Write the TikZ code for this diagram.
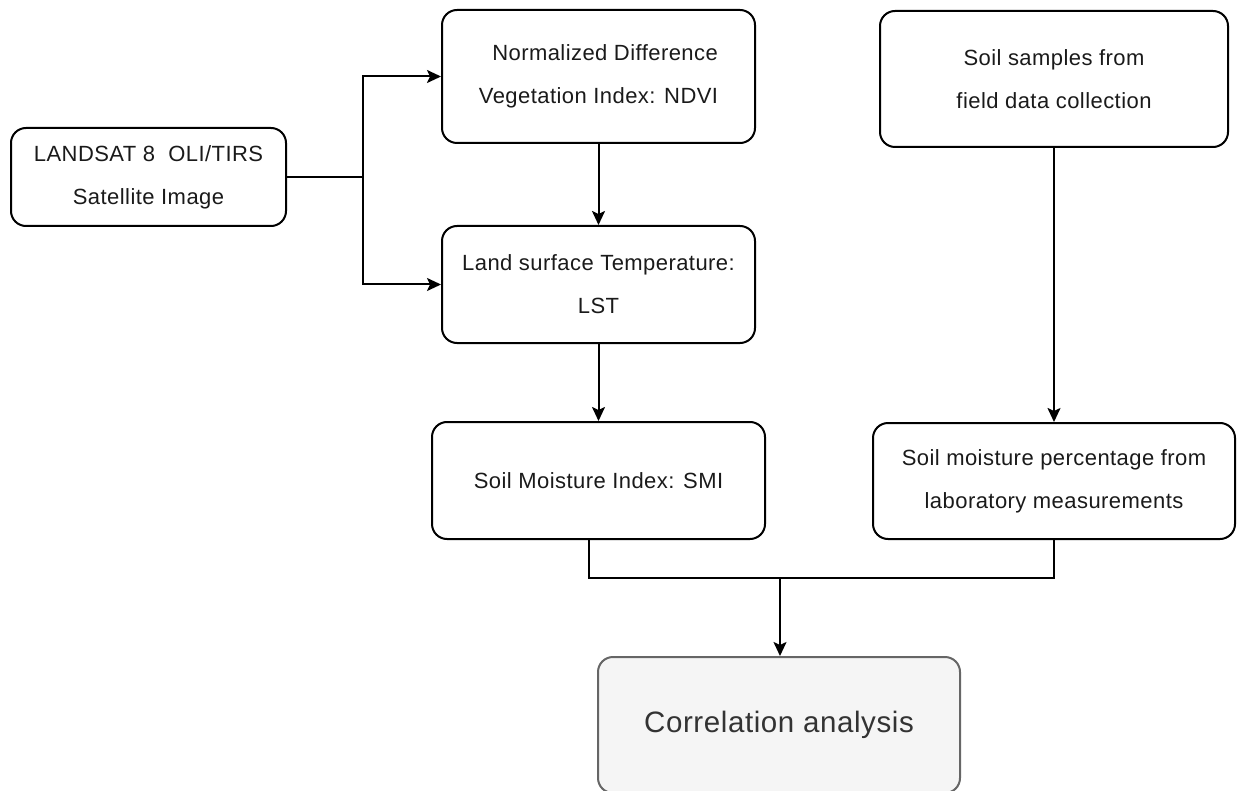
\documentclass[tikz,border=0pt]{standalone}
\usepackage{fontspec}
\setmainfont[LetterSpace=2]{Liberation Sans}
\usetikzlibrary{arrows.meta}
\definecolor{txt}{HTML}{1A1A1A}
\definecolor{corrfill}{HTML}{F5F5F5}
\definecolor{corrdraw}{HTML}{666666}
\definecolor{corrtxt}{HTML}{333333}
\begin{document}
\begin{tikzpicture}[x=1pt,y=-1pt,
  box/.style={draw=black, line width=2pt, rounded corners=15pt, align=center, inner sep=0pt,
    text=txt, font=\fontsize{22}{43}\selectfont},
  arr/.style={-{Stealth[length=14pt,width=13pt,inset=3pt]}, line width=2pt},
  ln/.style={line width=2pt}]
\useasboundingbox (0,0) rectangle (1238,791);
\node[box, minimum width=275pt, minimum height=98pt] (landsat) at (148.5,177) {LANDSAT 8\ \ OLI/TIRS\\Satellite Image};
\node[box, minimum width=313pt, minimum height=133pt] (ndvi) at (598.5,76.5) {\ \ Normalized Difference\\Vegetation Index: NDVI};
\node[box, minimum width=313pt, minimum height=117pt] (lst) at (598.5,284.5) {Land surface Temperature:\\LST};
\node[box, minimum width=333pt, minimum height=117pt] (smi) at (598.5,480.5) {Soil Moisture Index: SMI};
\node[box, minimum width=348pt, minimum height=136pt] (soil) at (1054,79) {Soil samples from\\field data collection};
\node[box, minimum width=362pt, minimum height=116pt] (lab) at (1054,481) {Soil moisture percentage from\\laboratory measurements};
\node[box, draw=corrdraw, fill=corrfill, text=corrtxt, minimum width=362pt, minimum height=136pt,
  font=\fontsize{29.5}{36}\selectfont] (corr) at (779,725) {Correlation analysis};
\coordinate (br) at (363,177);
\coordinate (mL) at (589,578);
\coordinate (mR) at (1054,578);
\coordinate (mC) at (780,578);
\draw[ln] (landsat.east |- br) -- (br);
\draw[arr] (br) |- (ndvi.west);
\draw[arr] (br) |- (lst.west);
\draw[arr] (ndvi.south) -- (lst.north);
\draw[arr] (lst.south) -- (smi.north);
\draw[arr] (soil.south) -- (lab.north);
\draw[ln] (smi.south -| mL) -- (mL) -- (mR) -- (lab.south);
\draw[arr] (mC) -- (corr.north -| mC);
\end{tikzpicture}
\end{document}
